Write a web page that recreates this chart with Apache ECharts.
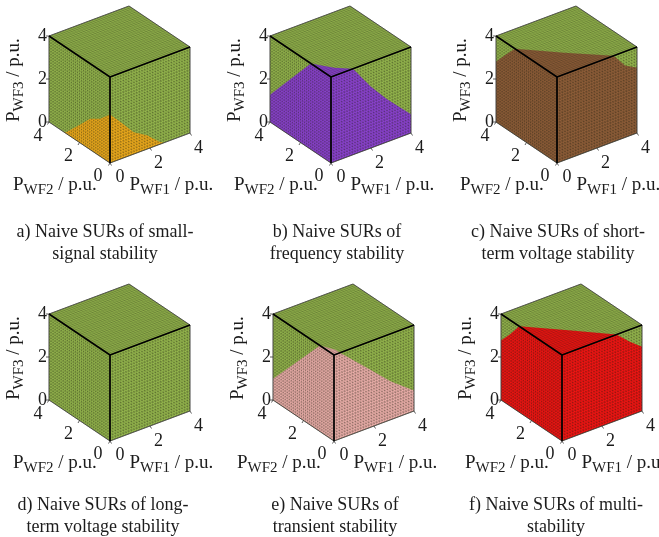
<!DOCTYPE html>
<html><head><meta charset="utf-8">
<style>html,body{margin:0;padding:0;background:#fff}#c{width:659px;height:537px}</style>
<script src="https://cdn.jsdelivr.net/npm/echarts@6/dist/echarts.min.js"></script>
</head><body><div id="c"></div>
<script>
// ---- data ----
const axisTicks = [0, 2, 4];
const axisMax = 4;
const meshCells = 30;
const captions = [
  'a) Naive SURs of small-\nsignal stability',
  'b) Naive SURs of\nfrequency stability',
  'c) Naive SURs of short-\nterm voltage stability',
  'd) Naive SURs of long-\nterm voltage stability',
  'e) Naive SURs of\ntransient stability',
  'f) Naive SURs of multi-\nstability'
];
const regionColors = ['#fab41e', '#9245dc', '#96623c', '#9cc052', '#f8b8b4', '#ff1414'];
const insecureColor = '#9cc052';
// [P_WF2, P_WF3] boundary of the coloured region on the P_WF1 = 0 face
const leftA = [[0,2.26],[0.64,1.75],[1.3,1.44],[2.19,0.65],[2.85,0.08],[3.0,0]];
const leftB = [[0,4],[1.32,4],[4,1.27]];
const leftC = [[0,4],[2.75,4],[3.4,3.4],[4,2.8]];
const leftD = [];
const leftE = [[0,4],[0.92,4],[4,0.99]];
const leftF = [[0,4],[2.8,4],[3.4,3.35],[4,2.77]];
// [P_WF1, P_WF3] boundary on the P_WF2 = 0 face
const rightA = [[0,2.26],[0.52,1.72],[1.18,1.02],[1.85,0.64],[2.5,0.1],[2.7,0]];
const rightB = [[0,4],[1.1,4],[1.93,2.93],[2.77,2.02],[4,0.87]];
const rightC = [[0,4],[2.83,4],[3.4,3.35],[3.87,3.1],[4,3.05]];
const rightD = [];
const rightE = [[0,4],[0.3,4],[1.82,2.68],[2.82,1.79],[4,0.95]];
const rightF = [[0,4],[2.72,4],[3.37,3.45],[3.87,3.08],[4,3.0]];
// [P_WF1, P_WF2] boundary on the P_WF3 = 4 face
const topA = [];
const topB = [[1.1,0],[0.55,0.5],[0,1.32]];
const topC = [[2.83,0],[1.4,1.35],[0,2.75]];
const topD = [];
const topE = [[0.3,0],[0.3,0.3],[0,0.92]];
const topF = [[2.72,0],[1.4,1.4],[0,2.8]];
const lefts = [leftA,leftB,leftC,leftD,leftE,leftF];
const rights = [rightA,rightB,rightC,rightD,rightE,rightF];
const tops = [topA,topB,topC,topD,topE,topF];
// ---- layout ----
const origins = [[110,163],[331,163],[557,163],[110,441],[334,441],[562,441]];
const captionPos = [[100,216],[332,216],[553,216],[98,489],[330,489],[551,489]];
const proj = { p1:[20,7.5], p2:[-15.25,10.25], p3:[0,21.5] };
const FONT = '"Liberation Serif","Times New Roman",serif';
const INK = '#1c1c1c';
const uv = (a,b,c) => [proj.p1[0]*a + proj.p2[0]*b, proj.p1[1]*a + proj.p2[1]*b + proj.p3[1]*c];

function buildShapes(i){
  const s = [];
  const poly = (pts,fill) => s.push({k:'poly',pts,fill});
  const line = (a,b,w,col) => s.push({k:'line',pts:[a,b],w,col});
  const M = axisMax;
  poly([uv(0,0,0),uv(0,M,0),uv(0,M,M),uv(0,0,M)], insecureColor);
  poly([uv(0,0,0),uv(M,0,0),uv(M,0,M),uv(0,0,M)], insecureColor);
  poly([uv(0,0,M),uv(M,0,M),uv(M,M,M),uv(0,M,M)], insecureColor);
  if (lefts[i].length) poly([uv(0,0,0)].concat(lefts[i].map(p=>uv(0,p[0],p[1])), lefts[i][lefts[i].length-1][1]>0 ? [uv(0,M,0)] : []), regionColors[i]);
  if (rights[i].length) poly([uv(0,0,0)].concat(rights[i].map(p=>uv(p[0],0,p[1])), rights[i][rights[i].length-1][1]>0 ? [uv(M,0,0)] : []), regionColors[i]);
  if (tops[i].length) poly([uv(0,0,M)].concat(tops[i].map(p=>uv(p[0],p[1],M))), regionColors[i]);
  const mc = 'rgba(30,30,15,0.42)', mw = 0.5, d = M/meshCells, mt = 'rgba(30,30,15,0.3)';
  for (let n=0;n<=meshCells;n++){
    const t=n*d;
    line(uv(0,t,0),uv(0,t,M),mw,mc); line(uv(0,0,t),uv(0,M,t),mw,mc);
    line(uv(t,0,0),uv(t,0,M),mw,mc); line(uv(0,0,t),uv(M,0,t),mw,mc);
    line(uv(t,0,M),uv(t,M,M),mw,mt); line(uv(0,t,M),uv(M,t,M),mw,mt);
    line(uv(0,t,0),uv(0,0,t),mw,mc);
    line(uv(t,0,0),uv(0,0,t),mw,mc);
    line(uv(t,0,M),uv(0,t,M),mw,mt);
    if(n>0){
      line(uv(0,M,t),uv(0,t,M),mw,mc);
      line(uv(M,0,t),uv(t,0,M),mw,mc);
      line(uv(M,t,M),uv(t,M,M),mw,mt);
    }
  }
  const th='#3a3a3a';
  line(uv(0,M,0),uv(0,0,0),0.8,th); line(uv(M,0,0),uv(0,0,0),0.8,th);
  line(uv(0,M,0),uv(0,M,M),0.8,th); line(uv(M,0,0),uv(M,0,M),0.8,th);
  line(uv(0,M,M),uv(M,M,M),0.8,th); line(uv(M,0,M),uv(M,M,M),0.8,th);
  line(uv(0,0,M),uv(0,M,M),1.7,'#000'); line(uv(0,0,M),uv(M,0,M),1.7,'#000'); line(uv(0,0,M),uv(0,0,0),1.7,'#000');
  axisTicks.forEach(t=>{
    s.push({k:'tick',p:uv(0,M,t),dx:-3,dy:0});
    s.push({k:'tick',p:uv(t,0,0),dx:1.5,dy:2.5});
    s.push({k:'tick',p:uv(0,t,0),dx:-1.5,dy:2.5});
    s.push({k:'label',p:uv(0,M,t),dx:-6.5,dy:0,t:String(t)});
    s.push({k:'label',p:uv(t,0,0),dx:t===0?10:8.5,dy:t===0?14:15,t:String(t)});
    s.push({k:'label',p:uv(0,t,0),dx:t===0?-12:-11,dy:t===0?13:14,t:String(t)});
  });
  s.push({k:'name',p:uv(0,0,0),dx:-97,dy:22,t:'{p|P}{s|WF2}{p| / p.u.}',r:0});
  s.push({k:'name',p:uv(0,0,0),dx:19.5,dy:22,t:'{p|P}{s|WF1}{p| / p.u.}',r:0});
  s.push({k:'name',p:uv(0,0,0),dx:-96,dy:-41,t:'{p|P}{s|WF3}{p| / p.u.}',r:Math.PI/2});
  return s;
}
const rich = {
  p:{fontFamily:FONT,fontSize:19,fill:INK,lineHeight:20},
  s:{fontFamily:FONT,fontSize:15,fill:INK,lineHeight:20,padding:[11,0,0,0]}
};
const grids=[],xAxes=[],yAxes=[],series=[];
origins.forEach((o,i)=>{
  grids.push({left:o[0]-70,top:o[1]-160,width:160,height:190});
  xAxes.push({type:'value',gridIndex:i,min:-70,max:90,show:false});
  yAxes.push({type:'value',gridIndex:i,min:-30,max:160,show:false});
  const shapes = buildShapes(i);
  series.push({
    type:'custom',coordinateSystem:'cartesian2d',xAxisIndex:i,yAxisIndex:i,
    clip:false,silent:true,animation:false,progressive:0,
    data:shapes.map((_,n)=>[n]),
    encode:{x:[],y:[]},
    renderItem:(params,api)=>{
      const e=shapes[params.dataIndex];
      if(e.k==='poly') return {type:'polygon',shape:{points:e.pts.map(p=>api.coord(p))},style:{fill:e.fill,stroke:null}};
      if(e.k==='line'){const a=api.coord(e.pts[0]),b=api.coord(e.pts[1]);
        return {type:'line',shape:{x1:a[0],y1:a[1],x2:b[0],y2:b[1]},style:{stroke:e.col,lineWidth:e.w,fill:null}};}
      const c=api.coord(e.p);
      if(e.k==='tick') return {type:'line',shape:{x1:c[0],y1:c[1],x2:c[0]+e.dx,y2:c[1]+e.dy},style:{stroke:'#333',lineWidth:0.8}};
      if(e.k==='label') return {type:'text',x:c[0]+e.dx,y:c[1]+e.dy,style:{text:e.t,font:'18px '+FONT,fill:INK,align:'center',verticalAlign:'middle'}};
      return {type:'text',x:c[0]+e.dx,y:c[1]+e.dy,rotation:e.r,style:{text:e.t,rich,align:'left',verticalAlign:'middle'}};
    }
  });
});
const titles = captions.map((t,i)=>({
  text:t,left:captionPos[i][0],top:captionPos[i][1],textAlign:'center',
  textStyle:{fontFamily:FONT,fontSize:18,fontWeight:'normal',color:INK,lineHeight:22}
}));
const chart=echarts.init(document.getElementById('c'),null,{renderer:'canvas'});
chart.setOption({backgroundColor:'#fff',animation:false,title:titles,grid:grids,xAxis:xAxes,yAxis:yAxes,series});
</script></body></html>
